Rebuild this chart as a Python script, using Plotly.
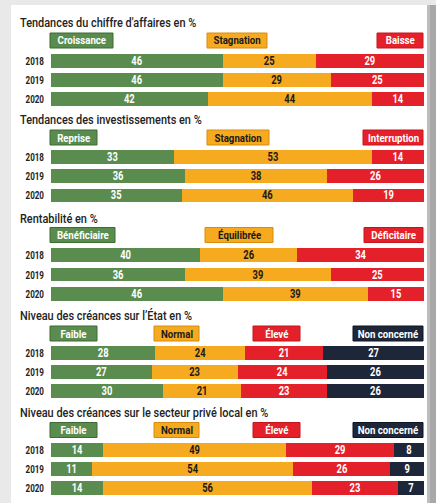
import plotly.graph_objects as go

W, H = 436, 503

years = ["2018", "2019", "2020"]

# Section 1
title1 = "Tendances du chiffre d'affaires en %"
labels1 = ["Croissance", "Stagnation", "Baisse"]
croissance = [46, 46, 42]
stagnation1 = [25, 29, 44]
baisse = [29, 25, 14]

# Section 2
title2 = "Tendances des investissements en %"
labels2 = ["Reprise", "Stagnation", "Interruption"]
reprise = [33, 36, 35]
stagnation2 = [53, 38, 46]
interruption = [14, 26, 19]

# Section 3
title3 = "Rentabilité en %"
labels3 = ["Bénéficiaire", "Équilibrée", "Déficitaire"]
beneficiaire = [40, 36, 46]
equilibree = [26, 39, 39]
deficitaire = [34, 25, 15]

# Section 4
title4 = "Niveau des créances sur l’État en %"
labels4 = ["Faible", "Normal", "Élevé", "Non concerné"]
faible4 = [28, 27, 30]
normal4 = [24, 23, 21]
eleve4 = [21, 24, 23]
nonconc4 = [27, 26, 26]

# Section 5
title5 = "Niveau des créances sur le secteur privé local en %"
labels5 = ["Faible", "Normal", "Élevé", "Non concerné"]
faible5 = [14, 11, 14]
normal5 = [49, 54, 56]
eleve5 = [29, 26, 23]
nonconc5 = [8, 9, 7]

sections = [
    (title1, labels1, [croissance, stagnation1, baisse]),
    (title2, labels2, [reprise, stagnation2, interruption]),
    (title3, labels3, [beneficiaire, equilibree, deficitaire]),
    (title4, labels4, [faible4, normal4, eleve4, nonconc4]),
    (title5, labels5, [faible5, normal5, eleve5, nonconc5]),
]

GREEN, ORANGE, RED, NAVY = "#5b8c4f", "#f6aa1f", "#e4202a", "#1e2739"
BORDERS = {GREEN: "#3e6b33", ORANGE: "#d98c0c", RED: "#c4141c", NAVY: "#0e1522"}
TXT = {GREEN: "white", ORANGE: "#1a1a1a", RED: "white", NAVY: "white"}
colors3 = [GREEN, ORANGE, RED]
colors4 = [GREEN, ORANGE, RED, NAVY]

# layout geometry (pixels from top)
title_y = [22, 120, 218, 315, 412]
legend_y = [40.5, 137.5, 235, 333.5, 430]
bar_dom = [(51.5, 108.5), (147.5, 205), (245.3, 303.7), (343.5, 400.5), (440.5, 497.5)]
legend_boxes = [
    [(50, 113), (207, 267), (377, 423)],
    [(50, 97), (207, 269), (363, 423)],
    [(50, 115), (205, 273), (364, 423)],
    [(50, 97), (154, 199), (253, 300), (353, 423)],
    [(50, 97), (154, 199), (253, 300), (353, 423)],
]
X0, X1 = 51, 424
FONT = "Roboto"

fig = go.Figure()
layout = dict(
    width=W, height=H, margin=dict(l=0, r=0, t=0, b=0),
    paper_bgcolor="#e9e9e9", plot_bgcolor="rgba(0,0,0,0)",
    barmode="stack", bargap=0.29, showlegend=False,
    font=dict(family=FONT, color="#222"),
)
shapes = [
    dict(type="rect", xref="paper", yref="paper", x0=11/W, x1=427/W, y0=0, y1=1-5/H,
         fillcolor="white", line=dict(width=0), layer="below"),
    dict(type="rect", xref="paper", yref="paper", x0=427/W, x1=1, y0=0, y1=1-5/H,
         fillcolor="#bdbdbd", line=dict(width=0), layer="below"),
    dict(type="rect", xref="paper", yref="paper", x0=430/W, x1=1, y0=0, y1=1-5/H,
         fillcolor="#a8a8a8", line=dict(width=0), layer="below"),
]
annotations = []

for i, (title, labels, series) in enumerate(sections):
    k = i + 1
    xa = "x" if k == 1 else f"x{k}"
    ya = "y" if k == 1 else f"y{k}"
    cols = colors3 if len(series) == 3 else colors4
    for lab, vals, c in zip(labels, series, cols):
        fig.add_trace(go.Bar(
            x=vals, y=years, orientation="h", name=lab, xaxis=xa, yaxis=ya,
            marker=dict(color=c, line=dict(width=0)),
            text=[str(v) for v in vals], textposition="inside", textangle=0,
            insidetextanchor="middle", constraintext="none",
            textfont=dict(family=FONT, size=12, color=TXT[c], weight="bold"),
            hoverinfo="skip",
        ))
    top, bot = bar_dom[i]
    layout["xaxis" if k == 1 else f"xaxis{k}"] = dict(
        domain=[X0/W, X1/W], range=[0, 100], visible=False, anchor=ya, fixedrange=True)
    layout["yaxis" if k == 1 else f"yaxis{k}"] = dict(
        domain=[1-bot/H, 1-top/H], anchor=xa, type="category",
        categoryorder="array", categoryarray=years, autorange="reversed",
        showgrid=False, zeroline=False, showline=False, ticks="",
        ticklabelstandoff=6,
        tickfont=dict(family=FONT, size=11.5, color="#222", weight="bold"), fixedrange=True)
    annotations.append(dict(
        text=title, xref="paper", yref="paper", x=18/W, y=1-title_y[i]/H,
        xanchor="left", yanchor="middle", align="left", showarrow=False,
        font=dict(family=FONT, size=13, color="#222", weight=500)))
    for lab, (bx0, bx1), c in zip(labels, legend_boxes[i], cols):
        yc = legend_y[i]
        shapes.append(dict(type="rect", xref="paper", yref="paper",
                           x0=bx0/W, x1=bx1/W, y0=1-(yc+7.5)/H, y1=1-(yc-7.5)/H,
                           fillcolor=c, line=dict(color=BORDERS[c], width=1)))
        annotations.append(dict(
            text=lab, xref="paper", yref="paper", x=(bx0+bx1)/2/W, y=1-yc/H,
            xanchor="center", yanchor="middle", showarrow=False,
            font=dict(family=FONT, size=11.5, color=TXT[c], weight="bold")))

layout["shapes"] = shapes
layout["annotations"] = annotations
fig.update_layout(**layout)

# condensed look: narrow the glyphs of the rendered SVG text
post = """
document.body.style.margin='0';document.body.style.padding='0';
var gd=document.getElementById('{plot_id}');
function squeeze(sel,f){gd.querySelectorAll(sel).forEach(function(t){
  var w=t.getComputedTextLength(); if(!w) return;
  t.setAttribute('textLength',(w*f).toFixed(2));
  t.setAttribute('lengthAdjust','spacingAndGlyphs');});}
squeeze('text.annotation-text',0.84);
squeeze('g.yaxislayer-above text',0.70);
squeeze('text.bartext',0.78);
"""
fig.write_html("out.html", config={"displayModeBar": False}, post_script=post)
